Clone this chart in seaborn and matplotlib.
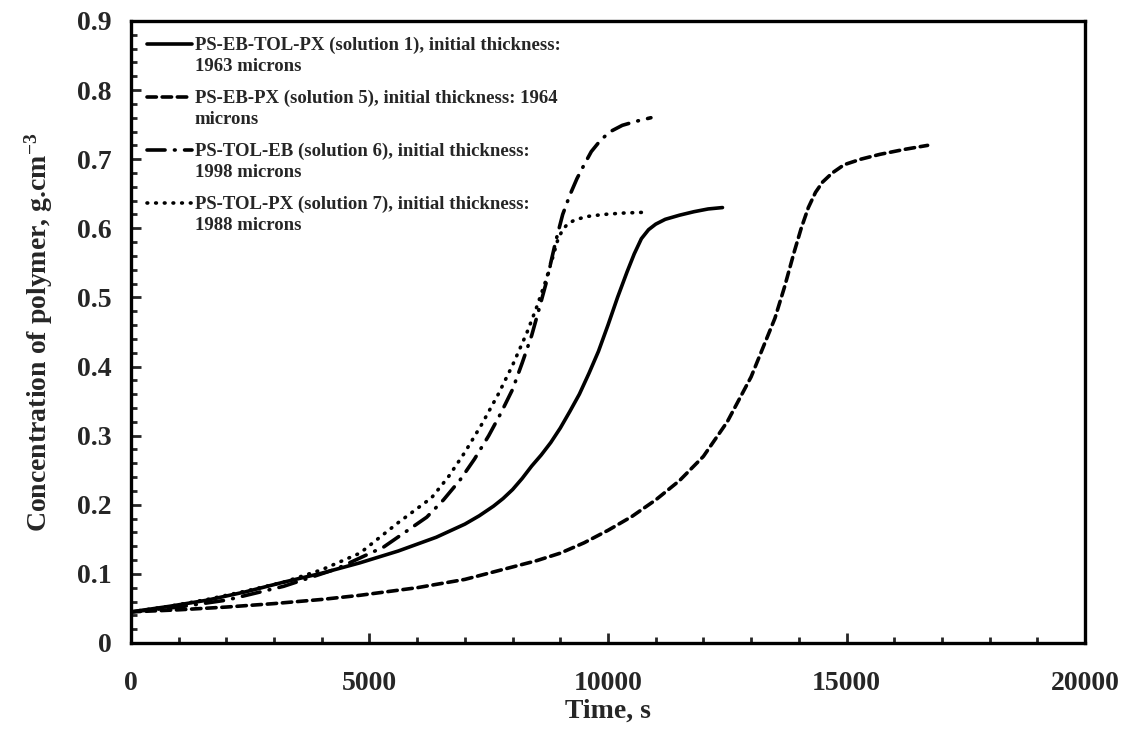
import numpy as np
import pandas as pd
import matplotlib
matplotlib.use("Agg")
import matplotlib.pyplot as plt
from matplotlib.ticker import MultipleLocator
from matplotlib.lines import Line2D
from matplotlib.legend_handler import HandlerLine2D
import seaborn as sns

# ---- data ----
labels = [
    "PS-EB-TOL-PX (solution 1), initial thickness:\n1963 microns",
    "PS-EB-PX (solution 5), initial thickness: 1964\nmicrons",
    "PS-TOL-EB (solution 6), initial thickness:\n1998 microns",
    "PS-TOL-PX (solution 7), initial thickness:\n1988 microns",
]

t_sol1 = [0, 800, 1600, 2400, 3200, 4000, 4800, 5600, 6400, 7000, 7300, 7600, 7800,
          8000, 8200, 8400, 8600, 8800, 9000, 9200, 9400, 9600, 9800, 10000, 10200,
          10400, 10550, 10700, 10850, 11000, 11200, 11500, 11800, 12100, 12400]
c_sol1 = [0.045, 0.053, 0.062, 0.074, 0.088, 0.101, 0.116, 0.133, 0.153, 0.172, 0.184,
          0.198, 0.209, 0.222, 0.238, 0.256, 0.272, 0.29, 0.311, 0.335, 0.36, 0.39, 0.422,
          0.46, 0.50, 0.537, 0.563, 0.585, 0.598, 0.606, 0.613, 0.619, 0.624, 0.628, 0.630]

t_sol5 = [0, 1000, 2000, 3000, 4000, 4800, 6000, 7000, 8000, 8500, 9000, 9500, 10000,
          10500, 11000, 11500, 12000, 12500, 13000, 13500, 13700, 13900, 14050, 14200,
          14350, 14500, 14700, 14950, 15300, 15700, 16200, 16700]
c_sol5 = [0.045, 0.048, 0.052, 0.057, 0.063, 0.069, 0.08, 0.092, 0.11, 0.119, 0.13, 0.145,
          0.163, 0.183, 0.207, 0.235, 0.27, 0.32, 0.385, 0.47, 0.515, 0.565, 0.60, 0.63,
          0.652, 0.667, 0.68, 0.692, 0.70, 0.707, 0.714, 0.72]

t_sol6 = [0, 1000, 2000, 3200, 4300, 5300, 6200, 6550, 6900, 7200, 7500, 7750, 8000,
          8200, 8400, 8550, 8700, 8900, 9050, 9200, 9350, 9500, 9650, 9850, 10050, 10300,
          10600, 10900]
c_sol6 = [0.045, 0.052, 0.062, 0.082, 0.107, 0.139, 0.182, 0.207, 0.236, 0.266, 0.3,
          0.332, 0.367, 0.405, 0.445, 0.482, 0.52, 0.58, 0.62, 0.648, 0.672, 0.692, 0.711,
          0.728, 0.740, 0.749, 0.755, 0.760]

t_sol7 = [0, 800, 1600, 2400, 3200, 4000, 4800, 5600, 6300, 6650, 7000, 7350, 7700,
          8000, 8300, 8500, 8700, 8850, 8950, 9050, 9150, 9300, 9550, 9900, 10300, 10700]
c_sol7 = [0.045, 0.053, 0.063, 0.075, 0.088, 0.106, 0.13, 0.174, 0.21, 0.24, 0.276,
          0.316, 0.36, 0.402, 0.449, 0.485, 0.525, 0.56, 0.584, 0.598, 0.606, 0.612,
          0.617, 0.620, 0.622, 0.623]

x_ticks = [0, 5000, 10000, 15000, 20000]
y_ticks = [0, 0.1, 0.2, 0.3, 0.4, 0.5, 0.6, 0.7, 0.8, 0.9]

frames = []
for lab, t, c in zip(labels, [t_sol1, t_sol5, t_sol6, t_sol7],
                     [c_sol1, c_sol5, c_sol6, c_sol7]):
    frames.append(pd.DataFrame({"Time": t, "Conc": c, "series": lab}))
df = pd.concat(frames, ignore_index=True)

# ---- style ----
sns.set_style("ticks")
plt.rcParams["font.family"] = ["Liberation Serif", "DejaVu Serif"]
plt.rcParams["font.weight"] = "bold"
plt.rcParams["mathtext.fontset"] = "custom"
plt.rcParams["mathtext.rm"] = "Liberation Serif:bold"
plt.rcParams["mathtext.it"] = "Liberation Serif:bold"
plt.rcParams["mathtext.bf"] = "Liberation Serif:bold"

fig = plt.figure(figsize=(11.32, 7.33), dpi=100)
ax = fig.add_axes([0.1157, 0.1228, 0.9585 - 0.1157, 0.9714 - 0.1228])

LW = 2.6
dash_map = {
    labels[0]: "",
    labels[1]: (2.6, 1.6),
    labels[2]: (5.0, 2.6, 0.2, 2.6),
    labels[3]: (0.2, 2.2),
}

sns.lineplot(data=df, x="Time", y="Conc", style="series", style_order=labels,
             dashes=dash_map, color="black", linewidth=LW, sort=False,
             estimator=None, ax=ax, legend=False)
for ln in ax.get_lines():
    ln.set_dash_capstyle("round")
    ln.set_solid_capstyle("round")
    ln.set_dash_joinstyle("round")
    ln.set_solid_joinstyle("round")

ax.set_xlim(0, 20000)
ax.set_ylim(0, 0.9)
ax.set_xticks(x_ticks)
ax.set_xticklabels([str(v) for v in x_ticks])
ax.set_yticks(y_ticks)
ax.set_yticklabels(["0"] + [f"{v:.1f}" for v in y_ticks[1:]])
ax.xaxis.set_minor_locator(MultipleLocator(1000))
ax.yaxis.set_minor_locator(MultipleLocator(0.02))

ax.tick_params(axis="both", which="major", direction="in", length=7, width=2,
               labelsize=20, top=False, right=False)
ax.tick_params(axis="both", which="minor", direction="in", length=4, width=2,
               top=False, right=False)
ax.tick_params(axis="x", which="major", pad=20)
ax.tick_params(axis="y", which="major", pad=14)
for lab in ax.get_xticklabels() + ax.get_yticklabels():
    lab.set_fontweight("bold")

for sp in ax.spines.values():
    sp.set_linewidth(2.4)
    sp.set_visible(True)
    sp.set_color("black")

ax.set_xlabel("Time, s", fontsize=20, fontweight="bold", labelpad=2)
ax.set_ylabel("Concentration of polymer, g.cm$^{-3}$", fontsize=20, fontweight="bold",
              labelpad=16)


class FirstLineHandler(HandlerLine2D):
    """Place the legend line beside the first text line of a two-line label."""
    def create_artists(self, legend, orig_handle, xdescent, ydescent, width,
                       height, fontsize, trans):
        arts = super().create_artists(legend, orig_handle, xdescent, ydescent,
                                      width, height, fontsize, trans)
        shift = 0.62 * fontsize
        for a in arts:
            if isinstance(a, Line2D):
                a.set_ydata([v + shift for v in a.get_ydata()])
        return arts


handles = []
for lab in labels:
    d = dash_map[lab]
    h = Line2D([], [], color="black", linewidth=LW)
    if d != "":
        h.set_dashes(d)
        h.set_dash_capstyle("round")
    handles.append(h)

leg = ax.legend(handles, labels, loc="upper left", bbox_to_anchor=(0.0, 1.0),
                frameon=False, handlelength=2.4, handletextpad=0.15,
                labelspacing=0.78, borderaxespad=0.45,
                handler_map={Line2D: FirstLineHandler()},
                prop={"family": "Liberation Serif", "weight": "bold", "size": 13.5})
for txt in leg.get_texts():
    txt.set_linespacing(1.3)

fig.savefig("out.png", dpi=100, facecolor="white")
